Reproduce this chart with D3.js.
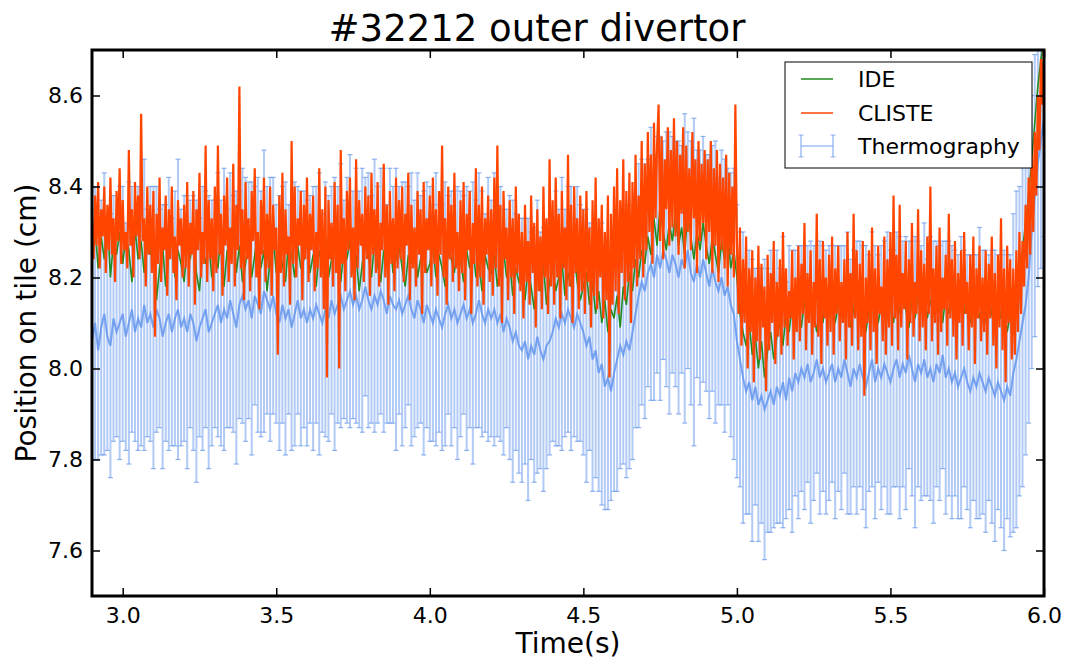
<!DOCTYPE html>
<html><head><meta charset="utf-8">
<script src="https://cdn.jsdelivr.net/npm/d3@7"></script>
<style>body{margin:0;background:#fff}svg text{font-family:"DejaVu Sans",sans-serif;fill:#000}</style>
</head><body>
<svg id="c" width="1065" height="661"></svg>
<script>
// ---- data ----
const T0 = 2.9;
const DT_THERMO = 0.01, DT_IDE = 0.01, DT_CLISTE = 0.005;
const xDomain = [2.9, 6.0];
const yDomain = [7.5, 8.7];
const xTicks = [3.0, 3.5, 4.0, 4.5, 5.0, 5.5, 6.0];
const yTicks = [7.6, 7.8, 8.0, 8.2, 8.4, 8.6];
const seriesNames = ["IDE", "CLISTE", "Thermography"];
const titleText = "#32212 outer divertor";
const xLabel = "Time(s)";
const yLabel = "Position on tile (cm)";

const thermoCenter = [
8.06,8.10,8.04,8.09,8.12,8.07,8.05,8.11,8.08,8.10,
8.12,8.07,8.10,8.13,8.08,8.11,8.09,8.14,8.10,8.12,
8.09,8.13,8.11,8.07,8.10,8.12,8.08,8.11,8.13,8.09,
8.11,8.08,8.12,8.10,8.06,8.09,8.11,8.13,8.08,8.10,
8.12,8.14,8.10,8.13,8.11,8.15,8.12,8.09,8.14,8.16,
8.13,8.15,8.11,8.16,8.14,8.12,8.17,8.15,8.13,8.16,
8.12,8.10,8.14,8.11,8.13,8.09,8.12,8.15,8.11,8.13,
8.10,8.13,8.11,8.14,8.12,8.10,8.13,8.11,8.15,8.12,
8.14,8.16,8.13,8.15,8.17,8.14,8.16,8.13,8.15,8.18,
8.15,8.13,8.16,8.14,8.17,8.15,8.12,8.16,8.14,8.13,
8.15,8.12,8.14,8.16,8.13,8.11,8.15,8.13,8.10,8.14,
8.12,8.10,8.13,8.11,8.09,8.12,8.14,8.11,8.13,8.10,
8.12,8.14,8.11,8.13,8.10,8.12,8.15,8.12,8.10,8.13,
8.11,8.13,8.10,8.12,8.08,8.11,8.09,8.06,8.08,8.05,
8.04,8.06,8.02,8.05,8.03,8.07,8.04,8.02,8.05,8.06,
8.08,8.11,8.09,8.12,8.10,8.13,8.11,8.09,8.12,8.10,
8.08,8.05,8.07,8.02,8.04,7.99,8.01,7.96,7.98,7.95,
7.99,8.02,8.05,8.03,8.06,8.04,8.08,8.12,8.16,8.19,
8.17,8.21,8.23,8.20,8.25,8.22,8.26,8.24,8.21,8.25,
8.23,8.20,8.24,8.22,8.26,8.21,8.19,8.23,8.20,8.24,
8.21,8.18,8.22,8.19,8.17,8.20,8.16,8.18,8.14,8.12,
8.06,8.02,7.98,7.95,7.97,7.93,7.96,7.92,7.94,7.91,
7.93,7.95,7.92,7.96,7.94,7.97,7.93,7.98,7.95,7.99,
7.97,8.00,7.98,8.01,7.97,7.99,8.02,7.98,8.00,7.97,
7.99,8.01,7.97,8.00,7.98,8.02,7.99,7.96,8.00,7.98,
8.01,7.98,7.96,7.99,8.02,7.97,8.00,7.98,8.01,7.99,
7.97,8.00,8.02,7.98,8.01,7.99,8.03,8.00,7.97,8.01,
7.99,8.02,7.98,8.00,7.97,8.01,7.99,8.03,7.98,8.00,
7.97,7.99,7.96,7.98,8.00,7.97,7.95,7.98,7.96,7.99,
7.97,7.95,7.98,7.96,7.94,7.97,7.95,7.93,7.96,7.94,
7.99,8.02,8.06,8.10,8.14,8.20,8.30,8.38,8.45,8.50,
8.55];

const thermoErr = [
.26,.30,.24,.28,.31,.25,.29,.27,.23,.30,
.28,.25,.31,.27,.24,.29,.26,.32,.25,.28,
.31,.27,.24,.29,.26,.30,.25,.28,.33,.26,
.27,.30,.25,.28,.31,.24,.29,.26,.30,.27,
.25,.29,.27,.31,.24,.28,.26,.30,.25,.28,
.29,.26,.30,.24,.28,.27,.31,.25,.29,.26,
.24,.28,.26,.30,.23,.27,.29,.25,.28,.26,
.27,.25,.29,.26,.31,.24,.28,.27,.25,.30,
.26,.29,.24,.27,.30,.25,.28,.26,.29,.24,
.28,.25,.30,.26,.27,.29,.24,.28,.26,.31,
.25,.29,.27,.24,.30,.26,.28,.25,.29,.27,
.28,.26,.30,.25,.27,.29,.24,.28,.26,.30,
.27,.24,.29,.26,.31,.25,.28,.27,.24,.29,
.26,.30,.25,.28,.27,.24,.29,.31,.26,.28,
.29,.27,.31,.25,.28,.30,.26,.29,.27,.25,
.24,.28,.26,.30,.25,.27,.29,.24,.28,.26,
.27,.30,.25,.29,.28,.26,.31,.27,.29,.24,
.26,.29,.27,.24,.30,.26,.28,.25,.29,.27,
.28,.25,.30,.27,.26,.29,.24,.28,.31,.26,
.27,.30,.25,.34,.26,.29,.36,.25,.28,.27,
.26,.29,.27,.31,.25,.28,.30,.26,.29,.32,
.30,.28,.32,.27,.29,.31,.26,.30,.28,.33,
.29,.31,.27,.30,.28,.32,.26,.29,.31,.27,
.30,.27,.29,.26,.31,.28,.25,.30,.27,.29,
.28,.26,.30,.27,.29,.25,.31,.28,.26,.30,
.27,.29,.31,.26,.28,.30,.25,.29,.27,.31,
.29,.26,.28,.31,.27,.30,.25,.28,.32,.27,
.28,.30,.26,.29,.31,.27,.28,.25,.30,.28,
.30,.27,.29,.31,.26,.28,.30,.27,.29,.32,
.29,.31,.27,.30,.32,.28,.30,.33,.29,.31,
.35,.37,.34,.36,.33,.32,.30,.31,.27,.28,
.26];

const ideValues = [
8.27,8.31,8.22,8.29,8.24,8.33,8.20,8.28,8.25,8.30,
8.23,8.29,8.26,8.19,8.31,8.24,8.28,8.21,8.27,8.25,
8.30,8.15,8.22,8.27,8.18,8.25,8.29,8.20,8.26,8.23,
8.19,8.27,8.24,8.30,8.21,8.17,8.26,8.23,8.28,8.20,
8.25,8.22,8.29,8.18,8.26,8.24,8.31,8.21,8.27,8.19,
8.23,8.28,8.20,8.25,8.30,8.22,8.26,8.17,8.24,8.29,
8.21,8.26,8.23,8.19,8.28,8.25,8.20,8.27,8.22,8.24,
8.28,8.21,8.25,8.18,8.26,8.23,8.29,8.20,8.24,8.27,
8.22,8.19,8.26,8.24,8.28,8.21,8.25,8.17,8.23,8.27,
8.25,8.20,8.28,8.23,8.19,8.26,8.22,8.29,8.21,8.24,
8.27,8.22,8.18,8.25,8.23,8.28,8.20,8.24,8.26,8.21,
8.23,8.27,8.20,8.25,8.22,8.18,8.26,8.24,8.21,8.28,
8.24,8.19,8.26,8.22,8.27,8.20,8.23,8.17,8.25,8.22,
8.21,8.25,8.18,8.23,8.26,8.20,8.24,8.16,8.22,8.19,
8.20,8.15,8.22,8.18,8.13,8.21,8.17,8.23,8.14,8.19,
8.22,8.17,8.20,8.24,8.16,8.21,8.18,8.25,8.19,8.15,
8.18,8.21,8.14,8.19,8.12,8.17,8.10,8.15,8.08,8.13,
8.11,8.16,8.09,8.18,8.14,8.21,8.17,8.24,8.20,8.26,
8.23,8.29,8.25,8.33,8.27,8.36,8.30,8.26,8.32,8.28,
8.34,8.27,8.31,8.25,8.35,8.29,8.24,8.30,8.26,8.32,
8.27,8.23,8.29,8.25,8.21,8.28,8.24,8.30,8.22,8.26,
8.20,8.12,8.08,8.05,8.10,8.03,8.07,8.00,8.06,7.98,
8.04,8.08,8.02,8.07,8.10,8.05,8.12,8.08,8.14,8.10,
8.13,8.09,8.15,8.11,8.16,8.12,8.08,8.14,8.10,8.15,
8.12,8.16,8.10,8.14,8.18,8.11,8.15,8.09,8.13,8.17,
8.11,8.15,8.08,8.13,8.16,8.12,8.10,8.14,8.17,8.11,
8.14,8.10,8.16,8.12,8.18,8.13,8.09,8.15,8.11,8.16,
8.13,8.17,8.11,8.15,8.12,8.18,8.14,8.10,8.16,8.12,
8.15,8.11,8.14,8.17,8.12,8.16,8.10,8.13,8.15,8.11,
8.14,8.10,8.16,8.12,8.09,8.15,8.11,8.13,8.08,8.12,
8.14,8.18,8.22,8.26,8.32,8.38,8.46,8.54,8.62,8.68,
8.72];

const clisteValues = [
8.32,8.24,8.38,8.27,8.41,8.22,8.35,8.29,8.40,8.21,8.36,8.26,8.42,8.25,8.33,8.19,8.39,8.28,8.44,8.23,
8.37,8.26,8.30,8.22,8.48,8.27,8.35,8.20,8.41,8.29,8.38,8.24,8.56,8.28,8.33,8.18,8.40,8.25,8.36,8.21,
8.39,8.07,8.34,8.23,8.42,8.19,8.31,8.26,8.38,8.16,8.35,8.24,8.40,8.21,8.29,8.15,8.37,8.27,8.33,8.20,
8.36,8.22,8.41,8.18,8.32,8.25,8.39,8.14,8.35,8.26,8.43,8.20,8.30,8.23,8.49,8.19,8.37,8.24,8.33,8.17,
8.40,8.21,8.49,8.25,8.34,8.16,8.38,8.27,8.42,8.19,8.31,8.23,8.45,8.18,8.36,8.26,8.62,8.22,8.35,8.15,
8.41,8.24,8.33,8.17,8.39,8.28,8.44,8.20,8.30,8.13,8.37,8.25,8.42,8.19,8.34,8.22,8.40,8.16,8.36,8.26,
8.31,8.03,8.38,8.21,8.43,8.18,8.35,8.25,8.29,8.14,8.50,8.23,8.40,8.20,8.33,8.27,8.39,8.15,8.36,8.24,
8.42,8.19,8.34,8.26,8.38,8.17,8.30,8.22,8.44,8.20,8.35,8.13,8.40,7.98,8.37,8.24,8.32,8.18,8.41,8.21,
8.36,8.00,8.48,8.23,8.33,8.17,8.39,8.26,8.42,8.20,8.31,8.15,8.46,8.22,8.37,8.27,8.34,8.19,8.40,8.24,
8.38,8.16,8.43,8.25,8.35,8.21,8.41,8.18,8.32,8.26,8.45,8.20,8.36,8.14,8.39,8.23,8.33,8.17,8.42,8.22,
8.37,8.24,8.40,8.19,8.34,8.27,8.43,8.15,8.36,8.22,8.31,8.18,8.39,8.25,8.35,8.12,8.41,8.21,8.33,8.26,
8.38,8.18,8.42,8.23,8.35,8.16,8.39,8.25,8.49,8.20,8.33,8.14,8.40,8.24,8.36,8.19,8.43,8.22,8.30,8.17,
8.37,8.21,8.41,8.15,8.34,8.26,8.39,8.12,8.32,8.23,8.44,8.18,8.36,8.20,8.40,8.14,8.33,8.25,8.38,8.19,
8.35,8.16,8.42,8.22,8.49,8.18,8.36,8.10,8.39,8.24,8.31,8.15,8.37,8.20,8.33,8.12,8.40,8.21,8.34,8.17,
8.30,8.11,8.36,8.19,8.28,8.14,8.38,8.21,8.32,8.09,8.35,8.17,8.29,8.13,8.40,8.20,8.33,8.12,8.46,8.18,
8.37,8.14,8.42,8.20,8.34,8.11,8.39,8.22,8.31,8.15,8.47,8.18,8.36,8.10,8.40,8.21,8.33,8.13,8.38,8.17,
8.35,8.12,8.39,8.19,8.31,8.09,8.37,8.16,8.42,8.13,8.33,8.20,8.36,8.11,8.30,8.15,8.38,7.98,8.34,8.14,
8.40,8.17,8.44,8.12,8.37,8.21,8.46,8.15,8.39,8.19,8.43,8.10,8.41,8.22,8.47,8.18,8.38,8.24,8.50,8.20,
8.45,8.26,8.52,8.30,8.47,8.23,8.54,8.33,8.49,8.58,8.28,8.51,8.24,8.46,8.35,8.53,8.27,8.48,8.31,8.55,
8.29,8.50,8.25,8.47,8.34,8.53,8.22,8.49,8.30,8.44,8.26,8.52,8.33,8.46,8.21,8.50,8.28,8.45,8.32,8.48,
8.24,8.46,8.30,8.50,8.21,8.44,8.27,8.48,8.19,8.45,8.26,8.42,8.22,8.47,8.18,8.43,8.25,8.40,8.20,8.58,
8.28,8.12,8.31,8.05,8.24,8.10,8.29,8.00,8.22,8.08,8.26,7.97,8.20,8.06,8.27,8.02,8.23,8.09,8.18,7.95,
8.25,8.04,8.21,8.10,8.28,8.01,8.19,8.07,8.24,8.03,8.30,8.09,8.22,8.05,8.17,8.11,8.26,8.02,8.20,8.08,
8.27,8.06,8.23,8.12,8.32,8.04,8.21,8.10,8.26,8.03,8.19,8.09,8.34,8.07,8.24,8.01,8.28,8.11,8.20,8.05,
8.25,8.08,8.29,8.03,8.22,8.12,8.27,8.06,8.19,8.10,8.24,8.02,8.30,8.09,8.21,8.05,8.34,8.11,8.26,8.04,
8.23,8.07,8.28,7.94,8.20,8.10,8.26,8.04,8.31,8.08,8.22,8.01,8.27,8.12,8.18,8.06,8.29,8.03,8.24,8.09,
8.30,8.05,8.38,8.11,8.25,8.04,8.36,8.09,8.21,8.13,8.28,8.02,8.24,8.10,8.32,8.07,8.19,8.12,8.35,8.06,
8.26,8.09,8.23,8.04,8.29,8.12,8.40,8.06,8.22,8.10,8.27,8.03,8.31,8.08,8.20,8.13,8.25,8.05,8.34,8.11,
8.24,8.07,8.28,8.02,8.21,8.10,8.26,8.05,8.30,8.12,8.19,8.04,8.25,8.09,8.29,8.01,8.22,8.11,8.27,8.06,
8.20,8.08,8.26,8.03,8.23,8.11,8.29,8.05,8.21,8.00,8.25,8.09,8.33,8.04,8.22,7.97,8.27,8.10,8.24,8.02,
8.22,8.03,8.26,8.08,8.30,8.12,8.28,8.18,8.36,8.22,8.42,8.25,8.47,8.30,8.52,8.38,8.60,8.48,8.68,8.58,
8.72];

// ---- chart ----
const svg = d3.select("#c");
const L = 92, R = 1044, TOP = 50, BOT = 596;
const x = d3.scaleLinear().domain(xDomain).range([L, R]);
const y = d3.scaleLinear().domain(yDomain).range([BOT, TOP]);

svg.append("defs").append("clipPath").attr("id", "clip")
  .append("rect").attr("x", L).attr("y", TOP).attr("width", R - L).attr("height", BOT - TOP);

const thermo = thermoCenter.map((v, i) => ({t: T0 + i * DT_THERMO, v, e: thermoErr[i]}));
const ide = ideValues.map((v, i) => ({t: T0 + i * DT_IDE, v}));
const cliste = clisteValues.map((v, i) => ({t: T0 + i * DT_CLISTE, v}));

const COL_TH = "#6495ED", COL_IDE = "#228B22", COL_CL = "#FF4500";

const plot = svg.append("g").attr("clip-path", "url(#clip)");

// Thermography error bars
const eb = plot.append("g");
eb.selectAll("line.bar").data(thermo).join("line").attr("class", "bar")
  .attr("x1", d => x(d.t)).attr("x2", d => x(d.t))
  .attr("y1", d => y(d.v - d.e)).attr("y2", d => y(d.v + d.e))
  .attr("stroke", COL_TH).attr("stroke-opacity", 0.5).attr("stroke-width", 2);
["lo", "hi"].forEach(k => {
  eb.selectAll("line.cap" + k).data(thermo).join("line").attr("class", "cap" + k)
    .attr("x1", d => x(d.t) - 2.5).attr("x2", d => x(d.t) + 2.5)
    .attr("y1", d => y(k === "lo" ? d.v - d.e : d.v + d.e))
    .attr("y2", d => y(k === "lo" ? d.v - d.e : d.v + d.e))
    .attr("stroke", COL_TH).attr("stroke-opacity", 0.7).attr("stroke-width", 1.2);
});
plot.append("path").datum(thermo)
  .attr("d", d3.line().x(d => x(d.t)).y(d => y(d.v)))
  .attr("fill", "none").attr("stroke", COL_TH).attr("stroke-opacity", 0.85).attr("stroke-width", 2);

// IDE
plot.append("path").datum(ide)
  .attr("d", d3.line().x(d => x(d.t)).y(d => y(d.v)))
  .attr("fill", "none").attr("stroke", COL_IDE).attr("stroke-width", 1.6);
// CLISTE
plot.append("path").datum(cliste)
  .attr("d", d3.line().x(d => x(d.t)).y(d => y(d.v)))
  .attr("fill", "none").attr("stroke", COL_CL).attr("stroke-width", 2.2);

// Axes (inward ticks on all sides)
const TK = 8;
const gB = svg.append("g").attr("transform", `translate(0,${BOT})`)
  .call(d3.axisBottom(x).tickValues(xTicks).tickSize(-TK).tickPadding(11).tickFormat(d3.format(".1f")));
const gT = svg.append("g").attr("transform", `translate(0,${TOP})`)
  .call(d3.axisTop(x).tickValues(xTicks).tickSize(-TK).tickFormat(""));
const gL = svg.append("g").attr("transform", `translate(${L},0)`)
  .call(d3.axisLeft(y).tickValues(yTicks).tickSize(-TK).tickPadding(9).tickFormat(d3.format(".1f")));
const gR = svg.append("g").attr("transform", `translate(${R},0)`)
  .call(d3.axisRight(y).tickValues(yTicks).tickSize(-TK).tickFormat(""));
[gB, gT, gL, gR].forEach(g => {
  g.select(".domain").remove();
  g.selectAll(".tick line").attr("stroke", "#000").attr("stroke-width", 1.5);
  g.selectAll(".tick text").style("font-size", "22px").attr("fill", "#000");
});

// Frame
svg.append("rect").attr("x", L).attr("y", TOP).attr("width", R - L).attr("height", BOT - TOP)
  .attr("fill", "none").attr("stroke", "#000").attr("stroke-width", 3);

// Title & labels
svg.append("text").attr("x", 537).attr("y", 41).attr("text-anchor", "middle")
  .style("font-size", "37px").text(titleText);
svg.append("text").attr("x", (L + R) / 2).attr("y", 653).attr("text-anchor", "middle")
  .style("font-size", "28px").text(xLabel);
svg.append("text").attr("transform", `translate(36,${(TOP + BOT) / 2}) rotate(-90)`)
  .attr("text-anchor", "middle").style("font-size", "28px").text(yLabel);

// Legend
const lg = svg.append("g");
lg.append("rect").attr("x", 785).attr("y", 62).attr("width", 247).attr("height", 106)
  .attr("fill", "#fff").attr("stroke", "#000").attr("stroke-width", 1);
const rows = [
  {name: seriesNames[0], color: COL_IDE, y: 79},
  {name: seriesNames[1], color: COL_CL, y: 113},
  {name: seriesNames[2], color: COL_TH, y: 146}
];
rows.forEach((r, i) => {
  if (i < 2) {
    lg.append("line").attr("x1", 801).attr("x2", 833).attr("y1", r.y).attr("y2", r.y)
      .attr("stroke", r.color).attr("stroke-width", 1.5);
  } else {
    lg.append("line").attr("x1", 801).attr("x2", 833).attr("y1", r.y).attr("y2", r.y)
      .attr("stroke", r.color).attr("stroke-opacity", 0.6).attr("stroke-width", 1.5);
    [801, 833].forEach(xx => {
      lg.append("line").attr("x1", xx).attr("x2", xx).attr("y1", r.y - 11).attr("y2", r.y + 11)
        .attr("stroke", r.color).attr("stroke-opacity", 0.6).attr("stroke-width", 1.5);
      [r.y - 11, r.y + 11].forEach(yy => lg.append("line").attr("x1", xx - 2.5).attr("x2", xx + 2.5)
        .attr("y1", yy).attr("y2", yy).attr("stroke", r.color).attr("stroke-opacity", 0.6).attr("stroke-width", 1.2));
    });
  }
  lg.append("text").attr("x", 858).attr("y", r.y).attr("dy", "0.36em")
    .style("font-size", "22px").text(r.name);
});
</script>
</body></html>
